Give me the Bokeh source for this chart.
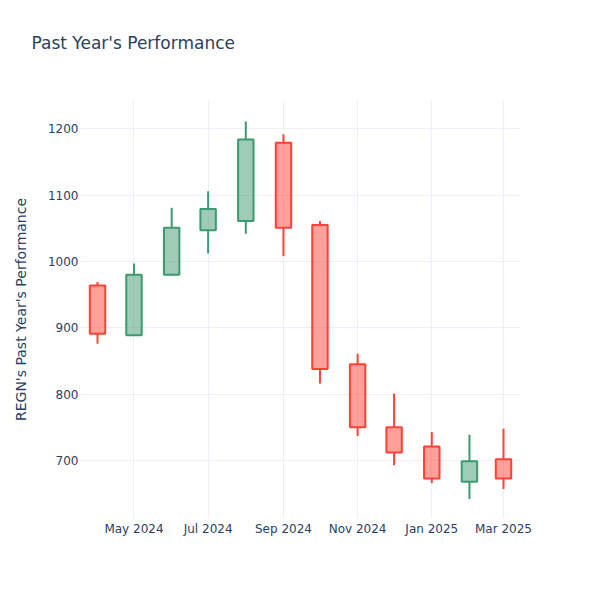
from datetime import datetime
import numpy as np
from bokeh.plotting import figure
from bokeh.models import (ColumnDataSource, Range1d, FixedTicker, DatetimeTickFormatter, Title)
from bokeh.embed import file_html
from bokeh.resources import INLINE

# ---- data (monthly OHLC) ----
months = ["2024-04-01", "2024-05-01", "2024-06-01", "2024-07-01", "2024-08-01", "2024-09-01",
          "2024-10-01", "2024-11-01", "2024-12-01", "2025-01-01", "2025-02-01", "2025-03-01"]
open_ = [964, 889, 980, 1047, 1061, 1179, 1055, 845, 750, 721, 668, 702]
high = [969, 997, 1081, 1106, 1211, 1192, 1061, 861, 801, 743, 739, 748]
low = [876, 888, 979, 1012, 1042, 1008, 816, 737, 693, 666, 642, 657]
close = [891, 980, 1051, 1079, 1184, 1051, 838, 750, 712, 673, 699, 673]

x_tick_dates = ["2024-05-01", "2024-07-01", "2024-09-01", "2024-11-01", "2025-01-01", "2025-03-01"]
y_ticks = [700, 800, 900, 1000, 1100, 1200]

title_text = "Past Year's Performance"
y_label = "REGN's Past Year's Performance"

# ---- styling ----
FONT = "DejaVu Sans"
TXT = "#2a3f5f"
GRID = "#EBF0F8"
INC_LINE, INC_FILL = "#3D9970", "#3D9970"
DEC_LINE, DEC_FILL = "#FF4136", "#FF4136"

dates = [datetime.strptime(d, "%Y-%m-%d") for d in months]
o = np.array(open_, dtype=float)
c = np.array(close, dtype=float)
h = np.array(high, dtype=float)
l = np.array(low, dtype=float)
inc = c >= o
body_top = np.maximum(o, c)
body_bot = np.minimum(o, c)
line_col = [INC_LINE if i else DEC_LINE for i in inc]
fill_col = [INC_FILL if i else DEC_FILL for i in inc]

src = ColumnDataSource(dict(x=dates, top=body_top, bottom=body_bot, high=h, low=l,
                            lc=line_col, fc=fill_col))

p = figure(x_axis_type="datetime", output_backend="svg", toolbar_location=None,
           frame_width=440, frame_height=418,
           min_border_left=80, min_border_top=100, min_border_right=60, min_border_bottom=60,
           x_range=Range1d(datetime(2024, 3, 18), datetime(2025, 3, 15)),
           y_range=Range1d(612.6, 1242.7),
           title=None)

p.background_fill_color = "white"
p.border_fill_color = "white"
p.outline_line_color = None

# spacer between frame and title, then the title
p.add_layout(Title(text=" ", text_font=FONT, text_font_size="17px", standoff=0), "above")
p.add_layout(Title(text=title_text, text_font=FONT, text_font_size="17px",
                   text_font_style="normal", text_color=TXT, align="left",
                   offset=-49, standoff=52), "above")

# axes
xa = p.xaxis[0]
ya = p.yaxis[0]
xa.ticker = FixedTicker(ticks=[datetime.strptime(d, "%Y-%m-%d").timestamp() * 1000 for d in x_tick_dates])
fmt = "%b %Y"
xa.formatter = DatetimeTickFormatter(days=fmt, months=fmt, years=fmt, hours=fmt, minutes=fmt,
                                     seconds=fmt, milliseconds=fmt, minsec=fmt, hourmin=fmt)
ya.ticker = FixedTicker(ticks=y_ticks)
ya.axis_label = y_label
for ax in (xa, ya):
    ax.axis_line_color = None
    ax.major_tick_line_color = None
    ax.minor_tick_line_color = None
    ax.major_tick_out = 0
    ax.major_tick_in = 0
    ax.major_label_text_font = FONT
    ax.major_label_text_font_size = "12px"
    ax.major_label_text_color = TXT
xa.major_label_standoff = 3
ya.major_label_standoff = 2
ya.axis_label_text_font = FONT
ya.axis_label_text_font_size = "14px"
ya.axis_label_text_font_style = "normal"
ya.axis_label_text_color = TXT
ya.axis_label_standoff = 16

p.xgrid.grid_line_color = GRID
p.ygrid.grid_line_color = GRID
p.xgrid.grid_line_width = 1
p.ygrid.grid_line_width = 1

# wicks (outside the body only)
p.segment(x0="x", y0="top", x1="x", y1="high", source=src, line_color="lc", line_width=2)
p.segment(x0="x", y0="bottom", x1="x", y1="low", source=src, line_color="lc", line_width=2)

# bodies
body_w = 12.7 * 24 * 3600 * 1000
p.vbar(x="x", width=body_w, top="top", bottom="bottom", source=src,
       fill_color="fc", fill_alpha=0.5, line_color="lc", line_width=2)

open("out.html", "w").write(file_html(p, INLINE))
